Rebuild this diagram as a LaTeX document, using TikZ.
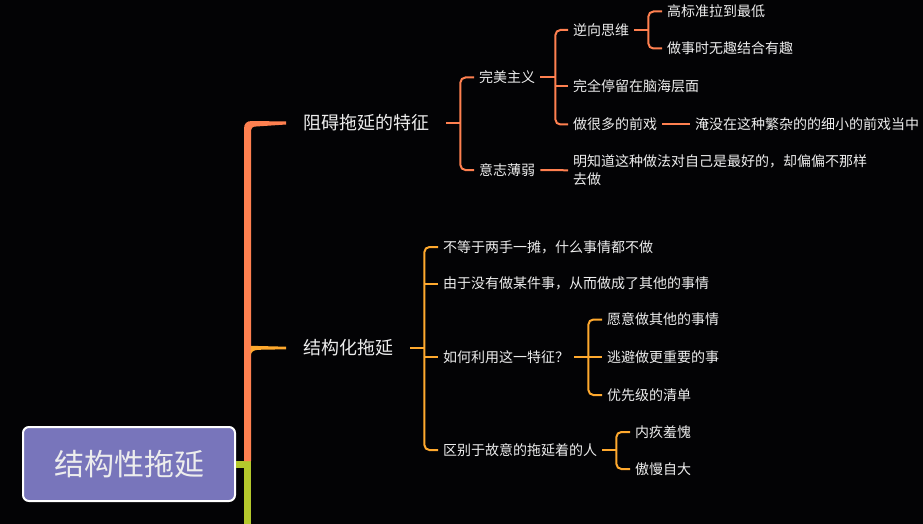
\documentclass[tikz,border=0pt]{standalone}
\usepackage{fontspec}
\setmainfont{Noto Sans CJK SC}
\usetikzlibrary{calc}
\definecolor{bg}{HTML}{030305}
\definecolor{corange}{HTML}{FF8050}
\definecolor{camber}{HTML}{FFA92E}
\definecolor{cgreen}{HTML}{B4C82C}
\definecolor{cpurple}{HTML}{7875BB}
\definecolor{ctext}{HTML}{EDEDED}
\begin{document}
\begin{tikzpicture}[x=1pt,y=-1pt,
  txt/.style={text=ctext,font=\fontsize{14}{17.5}\selectfont,inner xsep=5pt,inner ysep=2pt,anchor=west},
  lvlone/.style={text=ctext,font=\fontsize{18}{22}\selectfont,inner xsep=17pt,inner ysep=3pt,anchor=west},
  ob/.style={corange,line width=2pt,rounded corners=5pt},
  ab/.style={camber,line width=2pt,rounded corners=5pt}]
\fill[bg] (0,0) rectangle (923,524);
\useasboundingbox (0,0) rectangle (923,524);

% root
\node[draw=white, line width=2pt, fill=cpurple, rounded corners=6pt,
      minimum width=212pt, minimum height=74pt, text=ctext,
      font=\fontsize{30}{36}\selectfont] (root) at (129,464) {结构性拖延};

% level one
\node[lvlone] (b1) at (286,123) {阻碍拖延的特征};
\node[lvlone] (b2) at (286,348) {结构化拖延};

% trunk
\coordinate (gEnd) at (247.5,530);
\draw[cgreen,line width=7pt] (root.east) -- (247.5,464) -- (gEnd);
\fill[corange] (244,461) -- (244,129) .. controls (244,123.5) and (246.5,121) .. (252,121)
  -- ($(b1.west)+(0,-1.5)$) -- ($(b1.west)+(0,1.5)$) -- (256,126.5)
  .. controls (252.5,126.5) and (251,128) .. (251,132) -- (251,461) -- cycle;
\fill[camber] (250.5,345.8) -- ($(b2.west)+(0,-1.3)$) -- ($(b2.west)+(0,1.3)$) -- (258,349.8)
  .. controls (253.5,350) and (251,352) .. (250.5,356) -- cycle;

% branch 1
\node[txt] (p1) at (474,77.5) {完美主义};
\node[txt] (p2) at (474,170) {意志薄弱};
\draw[ob] (b1.east) -- ++(14,0) coordinate (k1);
\draw[ob] (p1.west) -- (p1.west -| k1) -- (p2.west -| k1) -- (p2.west);

\node[txt] (q1) at (568,30) {逆向思维};
\node[txt] (q2) at (568,86.5) {完全停留在脑海层面};
\node[txt] (q3) at (568,124.5) {做很多的前戏};
\draw[ob] (p1.east) -- ++(15,0) coordinate (k2);
\draw[ob] (q1.west) -- (q1.west -| k2) -- (q3.west -| k2) -- (q3.west);
\draw[ob] (q2.west -| k2) -- (q2.west);

\node[txt] (r1) at (662,11.5) {高标准拉到最低};
\node[txt] (r2) at (662,48.5) {做事时无趣结合有趣};
\draw[ob] (q1.east) -- ++(14,0) coordinate (k3);
\draw[ob] (r1.west) -- (r1.west -| k3) -- (r2.west -| k3) -- (r2.west);

\node[txt] (r3) at (690,124.5) {淹没在这种繁杂的的细小的前戏当中};
\draw[ob] (q3.east) -- (r3.west);

\node[txt, align=left] (r4) at (568,170.3) {明知道这种做法对自己是最好的，却偏偏不那样\\去做};
\draw[ob] (p2.east) -- (r4.west);

% branch 2
\node[txt] (s1) at (438,247) {不等于两手一摊，什么事情都不做};
\node[txt] (s2) at (438,283.5) {由于没有做某件事，从而做成了其他的事情};
\node[txt] (s3) at (438,357) {如何利用这一特征？};
\node[txt] (s4) at (438,450) {区别于故意的拖延着的人};
\draw[ab] (b2.east) -- ++(14,0) coordinate (k4);
\draw[ab] (s1.west) -- (s1.west -| k4) -- (s4.west -| k4) -- (s4.west);
\draw[ab] (s2.west -| k4) -- (s2.west);
\draw[ab] (s3.west -| k4) -- (s3.west);

\node[txt] (t1) at (602,319.5) {愿意做其他的事情};
\node[txt] (t2) at (602,357) {逃避做更重要的事};
\node[txt] (t3) at (602,395) {优先级的清单};
\draw[ab] (s3.east) -- ++(14,0) coordinate (k5);
\draw[ab] (t1.west) -- (t1.west -| k5) -- (t3.west -| k5) -- (t3.west);
\draw[ab] (t2.west -| k5) -- (t2.west);

\node[txt] (t4) at (630,432) {内疚羞愧};
\node[txt] (t5) at (630,469) {傲慢自大};
\draw[ab] (s4.east) -- ++(14,0) coordinate (k6);
\draw[ab] (t4.west) -- (t4.west -| k6) -- (t5.west -| k6) -- (t5.west);
\end{tikzpicture}
\end{document}
